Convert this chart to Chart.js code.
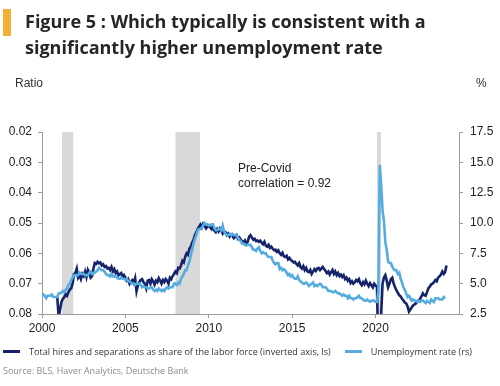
<!DOCTYPE html>
<html>
<head>
<meta charset="utf-8">
<script src="https://cdn.jsdelivr.net/npm/chart.js@4"></script>
<style>
  body { margin: 0; background: #fff; }
  #wrap { position: relative; width: 500px; height: 386px; overflow: hidden; }
  #chart { position: absolute; left: 0; top: 0; }
  .txt { position: absolute; white-space: nowrap; }
  #bar { position: absolute; left: 3px; top: 9px; width: 8px; height: 27px; background: #f2b134; }
  #title { left: 25px; top: 8px; font: bold 18px "Open Sans", sans-serif; line-height: 26px; color: #262626; }
  .unit { top: 76px; font: 12px "Liberation Sans", Arial, sans-serif; color: #333; }
  #legend { left: 3px; top: 345px; font: 9.1px "Open Sans", sans-serif; color: #333; display: flex; align-items: center; }
  #legend span.sw { display: inline-block; width: 17px; height: 3px; margin-right: 9px; }
  #source { left: 3px; top: 364px; font: 9px "Open Sans", sans-serif; color: #8a8a8a; }
</style>
</head>
<body>
<div id="wrap">
  <canvas id="chart" width="500" height="386"></canvas>
  <div id="bar"></div>
  <div id="title" class="txt">Figure 5 : Which typically is consistent with a<br>significantly higher unemployment rate</div>
  <div class="txt unit" style="left:15px">Ratio</div>
  <div class="txt unit" style="left:476px">%</div>
  <div id="legend" class="txt"></div>
  <div id="source" class="txt">Source: BLS, Haver Analytics, Deutsche Bank</div>
</div>
<script>
// Unemployment rate, monthly, Jan 2000 - Mar 2024 (%)
var unempRate = [
  4.0,4.1,4.0,3.8,4.0,4.0,4.0,4.1,3.9,3.9,3.9,3.9,
  4.2,4.2,4.3,4.4,4.3,4.5,4.6,4.9,5.0,5.3,5.5,5.7,
  5.7,5.7,5.7,5.9,5.8,5.8,5.8,5.7,5.7,5.7,5.9,6.0,
  5.8,5.9,5.9,6.0,6.1,6.3,6.2,6.1,6.1,6.0,5.8,5.7,
  5.7,5.6,5.8,5.6,5.6,5.6,5.5,5.4,5.4,5.5,5.4,5.4,
  5.3,5.4,5.2,5.2,5.1,5.0,5.0,4.9,5.0,5.0,5.0,4.9,
  4.7,4.8,4.7,4.7,4.6,4.6,4.7,4.7,4.5,4.4,4.5,4.4,
  4.6,4.5,4.4,4.5,4.4,4.6,4.7,4.6,4.7,4.7,4.7,5.0,
  5.0,4.9,5.1,5.0,5.4,5.6,5.8,6.1,6.1,6.5,6.8,7.3,
  7.8,8.3,8.7,9.0,9.4,9.5,9.5,9.6,9.8,10.0,9.9,9.9,
  9.8,9.8,9.9,9.9,9.6,9.4,9.4,9.5,9.5,9.4,9.8,9.3,
  9.1,9.0,9.0,9.1,9.0,9.1,9.0,9.0,9.0,8.8,8.6,8.5,
  8.3,8.3,8.2,8.2,8.2,8.2,8.2,8.0,7.8,7.8,7.7,7.9,
  8.0,7.7,7.5,7.6,7.5,7.5,7.3,7.2,7.2,7.2,6.9,6.7,
  6.6,6.7,6.7,6.2,6.3,6.1,6.2,6.1,5.9,5.7,5.8,5.6,
  5.7,5.5,5.4,5.4,5.6,5.3,5.2,5.1,5.0,5.0,5.1,5.0,
  4.8,4.9,5.0,5.1,4.8,4.9,4.8,4.9,5.0,4.9,4.7,4.7,
  4.7,4.6,4.4,4.4,4.4,4.3,4.3,4.4,4.3,4.2,4.2,4.1,
  4.0,4.1,4.0,4.0,3.8,4.0,3.8,3.8,3.7,3.8,3.8,3.9,
  4.0,3.8,3.8,3.7,3.6,3.6,3.7,3.6,3.5,3.6,3.6,3.6,
  3.5,3.5,4.4,14.8,13.2,11.0,10.2,8.4,7.8,6.8,6.7,6.7,
  6.4,6.2,6.1,6.1,5.8,5.9,5.4,5.1,4.7,4.5,4.2,3.9,
  4.0,3.8,3.6,3.7,3.6,3.6,3.5,3.6,3.5,3.6,3.6,3.5,
  3.4,3.6,3.5,3.4,3.7,3.6,3.5,3.8,3.8,3.8,3.7,3.7,
  3.7,3.9,3.8
];
var unempStart = [2000, 0];

// Hires + separations / labor force, monthly, Dec 2000 - Apr 2024
var flowRatio = [
  0.0745,
  0.0810,0.0785,0.0760,0.0750,0.0745,0.0735,0.0740,0.0728,0.0720,0.0715,0.0700,0.0668,
  0.0665,0.0650,0.0680,0.0672,0.0685,0.0668,0.0675,0.0660,0.0678,0.0655,0.0665,0.0680,
  0.0675,0.0650,0.0632,0.0635,0.0628,0.0633,0.0630,0.0640,0.0636,0.0645,0.0642,0.0650,
  0.0648,0.0655,0.0645,0.0660,0.0652,0.0665,0.0660,0.0672,0.0668,0.0665,0.0678,0.0672,
  0.0680,0.0690,0.0685,0.0700,0.0692,0.0688,0.0698,0.0682,0.0725,0.0705,0.0695,0.0688,
  0.0685,0.0695,0.0700,0.0715,0.0690,0.0688,0.0700,0.0685,0.0692,0.0703,0.0690,0.0695,
  0.0682,0.0690,0.0700,0.0688,0.0695,0.0685,0.0690,0.0700,0.0680,0.0685,0.0675,0.0668,
  0.0660,0.0665,0.0648,0.0650,0.0640,0.0625,0.0630,0.0612,0.0600,0.0605,0.0585,0.0578,
  0.0565,0.0555,0.0540,0.0530,0.0520,0.0512,0.0505,0.0515,0.0503,0.0510,0.0518,0.0512,
  0.0508,0.0515,0.0520,0.0510,0.0525,0.0530,0.0520,0.0528,0.0518,0.0525,0.0535,0.0528,
  0.0530,0.0540,0.0535,0.0545,0.0538,0.0542,0.0550,0.0545,0.0540,0.0552,0.0548,0.0555,
  0.0560,0.0565,0.0558,0.0570,0.0562,0.0545,0.0540,0.0548,0.0555,0.0552,0.0560,0.0558,
  0.0562,0.0558,0.0565,0.0570,0.0562,0.0575,0.0578,0.0572,0.0582,0.0578,0.0585,0.0590,
  0.0588,0.0595,0.0590,0.0600,0.0605,0.0598,0.0610,0.0612,0.0608,0.0620,0.0615,0.0622,
  0.0625,0.0630,0.0628,0.0635,0.0640,0.0632,0.0645,0.0650,0.0642,0.0655,0.0648,0.0660,
  0.0662,0.0655,0.0668,0.0660,0.0652,0.0658,0.0650,0.0648,0.0655,0.0650,0.0645,0.0652,
  0.0658,0.0665,0.0660,0.0670,0.0662,0.0655,0.0668,0.0660,0.0672,0.0665,0.0675,0.0670,
  0.0678,0.0672,0.0685,0.0680,0.0690,0.0685,0.0698,0.0692,0.0700,0.0695,0.0688,0.0692,
  0.0685,0.0698,0.0705,0.0695,0.0702,0.0690,0.0700,0.0708,0.0698,0.0705,0.0712,0.0700,
  0.0705,0.0712,0.0950,0.1200,0.0800,0.0700,0.0680,0.0672,0.0690,0.0712,0.0700,0.0685,
  0.0680,0.0700,0.0712,0.0722,0.0730,0.0738,0.0742,0.0750,0.0755,0.0762,0.0765,0.0775,
  0.0792,0.0785,0.0778,0.0772,0.0768,0.0765,0.0760,0.0755,0.0750,0.0742,0.0732,0.0738,
  0.0740,0.0728,0.0715,0.0710,0.0702,0.0700,0.0695,0.0688,0.0692,0.0680,0.0676,0.0670,
  0.0660,0.0668,0.0662,0.0640
];
var flowStart = [2000, 11];

// NBER recessions (decimal years)
var recessions = [[2001.2, 2001.87], [2008.0, 2009.47], [2020.08, 2020.32]];

var xTicks = [2000, 2005, 2010, 2015, 2020];
var ratioTicks = [0.02, 0.03, 0.04, 0.05, 0.06, 0.07, 0.08];
var pctTicks = [2.5, 5.0, 7.5, 10.0, 12.5, 15.0, 17.5];

var seriesNames = [
  "Total hires and separations as share of the labor force (inverted axis, ls)",
  "Unemployment rate (rs)"
];
var darkBlue = "#15236c";
var lightBlue = "#55acdf";

// monthly series -> {x: decimal year, y}
function toPoints(vals, start) {
  return vals.map(function (v, i) {
    return { x: start[0] + (start[1] + i) / 12, y: v };
  });
}

// shaded recession bars
var recessionBars = {
  id: "recessionBars",
  beforeDatasetsDraw: function (chart) {
    var ctx = chart.ctx, area = chart.chartArea, xs = chart.scales.x;
    ctx.save();
    ctx.fillStyle = "#d9d9d9";
    recessions.forEach(function (r) {
      var x1 = xs.getPixelForValue(r[0]), x2 = xs.getPixelForValue(r[1]);
      ctx.fillRect(x1, area.top, x2 - x1, area.bottom - area.top);
    });
    ctx.restore();
  }
};

// "Pre-Covid correlation" note
var corrNote = {
  id: "corrNote",
  afterDatasetsDraw: function (chart) {
    var ctx = chart.ctx;
    var x = chart.scales.x.getPixelForValue(2011.75);
    var y = chart.scales.yL.getPixelForValue(0.0322);
    ctx.save();
    ctx.font = "12px 'Liberation Sans', Arial, sans-serif";
    ctx.fillStyle = "#222";
    ctx.textBaseline = "middle";
    ctx.fillText("Pre-Covid", x, y);
    ctx.fillText("correlation = 0.92", x, y + 15);
    ctx.restore();
  }
};

var axisFont = { family: "'Liberation Sans', Arial, sans-serif", size: 12 };
var gridOpt = { drawOnChartArea: false, drawTicks: true, tickLength: 4, color: "#9a9a9a" };
var borderOpt = { color: "#9a9a9a", width: 1 };

new Chart(document.getElementById("chart"), {
  type: "line",
  data: {
    datasets: [
      {
        label: seriesNames[1],
        data: toPoints(unempRate, unempStart),
        yAxisID: "yR",
        borderColor: lightBlue,
        borderWidth: 2.6,
        pointRadius: 0,
        order: 0
      },
      {
        label: seriesNames[0],
        data: toPoints(flowRatio, flowStart),
        yAxisID: "yL",
        borderColor: darkBlue,
        borderWidth: 2.6,
        pointRadius: 0,
        order: 1
      }
    ]
  },
  options: {
    responsive: false,
    animation: false,
    devicePixelRatio: 1,
    layout: { padding: { top: 132, bottom: 46, left: 0, right: 0 } },
    plugins: { legend: { display: false }, tooltip: { enabled: false } },
    scales: {
      x: {
        type: "linear",
        min: 2000,
        max: 2025,
        afterBuildTicks: function (s) { s.ticks = xTicks.map(function (v) { return { value: v }; }); },
        afterFit: function (s) { s.height = 26; },
        ticks: { font: axisFont, color: "#222", padding: 3, maxRotation: 0, callback: function (v) { return String(v); } },
        grid: gridOpt,
        border: borderOpt
      },
      yL: {
        position: "left",
        reverse: true,
        min: 0.02,
        max: 0.08,
        afterBuildTicks: function (s) { s.ticks = ratioTicks.map(function (v) { return { value: v }; }); },
        afterFit: function (s) { s.width = 42; },
        ticks: { font: axisFont, color: "#222", padding: 6, callback: function (v) { return v.toFixed(2); } },
        grid: gridOpt,
        border: borderOpt
      },
      yR: {
        position: "right",
        min: 2.5,
        max: 17.5,
        afterBuildTicks: function (s) { s.ticks = pctTicks.map(function (v) { return { value: v }; }); },
        afterFit: function (s) { s.width = 41; },
        ticks: { font: axisFont, color: "#222", padding: 7, callback: function (v) { return v.toFixed(1); } },
        grid: gridOpt,
        border: borderOpt
      }
    }
  },
  plugins: [recessionBars, corrNote]
});

// legend built from the series names
var legend = document.getElementById("legend");
[[darkBlue, seriesNames[0]], [lightBlue, seriesNames[1]]].forEach(function (item, i) {
  var sw = document.createElement("span");
  sw.className = "sw";
  sw.style.background = item[0];
  if (i > 0) sw.style.marginLeft = "14px";
  legend.appendChild(sw);
  var t = document.createElement("span");
  t.textContent = item[1];
  legend.appendChild(t);
});
</script>
</body>
</html>
